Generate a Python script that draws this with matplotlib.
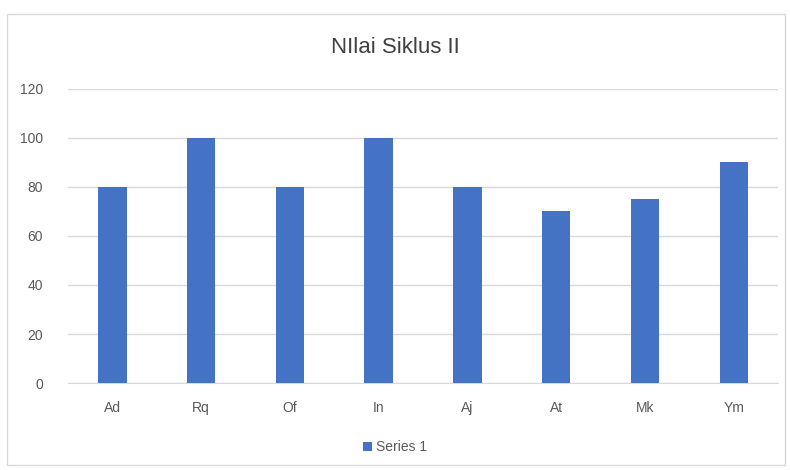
import matplotlib
matplotlib.use("Agg")
import matplotlib.pyplot as plt
from matplotlib.patches import Rectangle

# data
nama = ["Ad", "Rq", "Of", "In", "Aj", "At", "Mk", "Ym"]
nilai = [80, 100, 80, 100, 80, 70, 75, 90]
yticks = [0, 20, 40, 60, 80, 100, 120]

plt.rcParams['font.family'] = ['Liberation Sans', 'DejaVu Sans']
abu = "#595959"

fig = plt.figure(figsize=(7.9, 4.7), dpi=100)
ax = fig.add_axes([0.086, 0.185, 0.899, 0.626])

# bingkai chart
fig.patches.append(Rectangle((0.009, 0.01), 0.985, 0.96, transform=fig.transFigure,
                             fill=False, edgecolor="#D9D9D9", linewidth=1))

ax.bar(range(len(nama)), nilai, width=0.32, color="#4472C4", label="Series 1", zorder=3)

ax.set_ylim(0, 120)
ax.set_xlim(-0.5, len(nama) - 0.5)
ax.set_yticks(yticks)
ax.set_xticks(range(len(nama)))
ax.set_xticklabels(nama)
ax.grid(axis="y", color="#D9D9D9", linewidth=1, zorder=0)
for s in ["top", "right", "left"]:
    ax.spines[s].set_visible(False)
ax.spines["bottom"].set_color("#D9D9D9")
ax.tick_params(axis="both", length=0, colors=abu, labelsize=10)
ax.tick_params(axis="x", pad=13)
ax.tick_params(axis="y", pad=18)

fig.text(0.5, 0.898, "NIlai Siklus II", ha="center", va="center", fontsize=16, color="#404040")
fig.legend(loc="center", bbox_to_anchor=(0.5, 0.048), frameon=False, fontsize=10,
           labelcolor=abu, handlelength=0.7, handleheight=0.7, handletextpad=0.3)

fig.savefig("out.png", dpi=100)
